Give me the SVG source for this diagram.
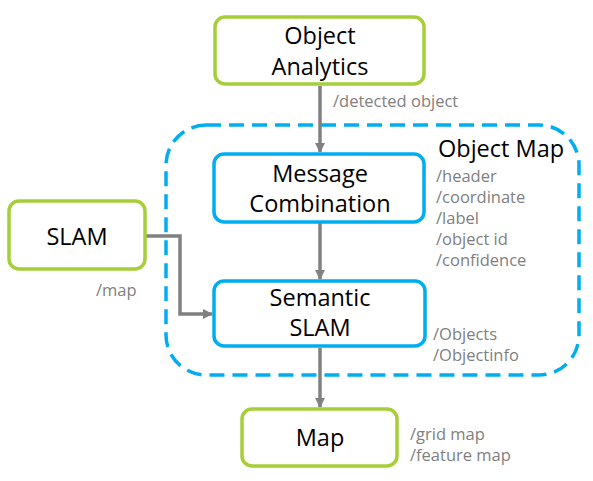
<svg xmlns="http://www.w3.org/2000/svg" width="593" height="481" viewBox="0 0 593 481">
<defs>
<style>
.g{fill:#fff;stroke:#a6ce39;stroke-width:3.5}
.b{fill:#fff;stroke:#00aeef;stroke-width:3.5}
.t{font-family:"Open Sans","Noto Sans",sans-serif;font-size:23.5px;fill:#000;text-anchor:middle}
.l{font-family:"Open Sans","Noto Sans",sans-serif;font-size:16.5px;fill:#808080}
.c{fill:none;stroke:#808080;stroke-width:3.5}
</style>
<marker id="a" markerWidth="10" markerHeight="10" refX="9" refY="5" orient="auto" markerUnits="userSpaceOnUse" viewBox="0 0 10 10">
<path d="M0,0 L10,5 L0,10 z" fill="#808080"/>
</marker>
</defs>
<rect width="593" height="481" fill="#fff"/>
<g id="objectmap">
<rect x="166" y="125" width="413" height="250" rx="40" fill="none" stroke="#00aeef" stroke-width="3.5" stroke-dasharray="15,8"/>
<text x="438" y="157" class="t" style="text-anchor:start">Object Map</text>
</g>
<g id="connectors">
<line class="c" x1="320" y1="86" x2="320" y2="152" marker-end="url(#a)"/>
<line class="c" x1="320" y1="223" x2="320" y2="279" marker-end="url(#a)"/>
<line class="c" x1="320" y1="348" x2="320" y2="407" marker-end="url(#a)"/>
<polyline class="c" points="146,236 180,236 180,314 212,314" marker-end="url(#a)"/>
<text class="l" x="333" y="107">/detected object</text>
<text class="l" x="96" y="296">/map</text>
<text class="l" x="436" y="182">/header</text>
<text class="l" x="436" y="203">/coordinate</text>
<text class="l" x="436" y="224">/label</text>
<text class="l" x="436" y="245">/object id</text>
<text class="l" x="436" y="266">/confidence</text>
<text class="l" x="433" y="340">/Objects</text>
<text class="l" x="433" y="361">/Objectinfo</text>
<text class="l" x="410" y="440">/grid map</text>
<text class="l" x="410" y="461">/feature map</text>
</g>
<g id="objectanalytics">
<rect class="g" x="215" y="17" width="209" height="67" rx="10"/>
<text class="t" x="320" y="44">Object</text>
<text class="t" x="320" y="75">Analytics</text>
</g>
<g id="messagecombination">
<rect class="b" x="214" y="154" width="210" height="68" rx="10"/>
<text class="t" x="320" y="182">Message</text>
<text class="t" x="320" y="212">Combination</text>
</g>
<g id="semanticslam">
<rect class="b" x="214" y="281" width="211" height="65" rx="10"/>
<text class="t" x="320" y="306">Semantic</text>
<text class="t" x="320" y="336">SLAM</text>
</g>
<g id="slam">
<rect class="g" x="9" y="201" width="136" height="68" rx="10"/>
<text class="t" x="77" y="245">SLAM</text>
</g>
<g id="map">
<rect class="g" x="242" y="409" width="155" height="57" rx="10"/>
<text class="t" x="320" y="446">Map</text>
</g>
</svg>
